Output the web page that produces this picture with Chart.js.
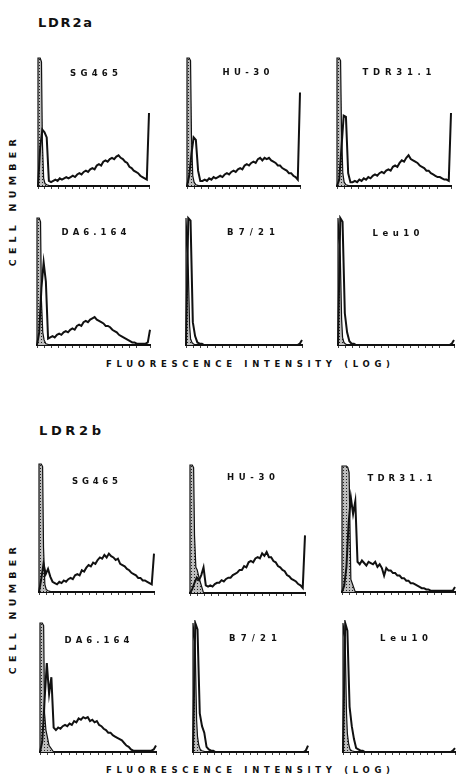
<!DOCTYPE html>
<html><head><meta charset="utf-8">
<script src="https://cdn.jsdelivr.net/npm/chart.js@4.4.1/dist/chart.umd.min.js"></script>
<style>
html,body{margin:0;padding:0;background:#fff;}
body{width:456px;height:775px;position:relative;overflow:hidden;font-family:"DejaVu Sans","Liberation Sans",Arial,sans-serif;}
.t{position:absolute;font-weight:bold;color:#111;white-space:nowrap;line-height:1;}
.pnl{position:absolute;}
</style>
</head><body>
<script>
// ---------------- DATA ----------------
const groupNames = ['LDR2a', 'LDR2b'];
const antibodies = ['SG465', 'HU-30', 'TDR31.1', 'DA6.164', 'B7/21', 'Leu10'];
const xAxisTitle = 'FLUORESCENCE INTENSITY (LOG)';
const yAxisTitle = 'CELL NUMBER';

// fluorescence channel (log scale, 0..255)
const channels = [0,5,10,15,20,25,30,35,40,45,50,55,60,65,70,75,80,85,90,95,100,105,110,115,120,125,130,135,140,145,150,155,160,165,170,175,180,185,190,195,200,205,210,215,220,225,230,235,240,245,250,255];
const controlChannels = [0,0,5,8,10,13,16,20,30,255];

// LDR2a — stained histograms (cell number, % of panel max)
const a_SG465  = [0,30,44,42,38,4,3,4,5,4, 6,5,6,7,6,7,8,7,9,10, 9,11,12,11,13,14,13,16,17,16, 19,20,19,21,22,21,23,24,22,21, 19,18,15,14,12,11,10,8,7,6, 5,57];
const a_HU30   = [0,8,25,38,36,12,4,4,5,4, 6,5,7,6,7,8,7,9,10,9, 11,12,11,13,14,13,16,17,16,18, 19,18,21,22,20,22,21,22,20,19, 18,16,16,14,13,12,10,10,8,7, 5,73];
const a_TDR311 = [0,5,30,55,54,10,3,3,4,3, 5,4,6,5,7,6,8,9,8,10, 11,10,12,13,12,15,16,15,18,20, 19,22,24,21,20,19,18,16,15,14, 12,12,10,9,8,7,7,6,5,5, 4,57];
const a_DA6164 = [0,10,45,65,50,5,6,7,6,8, 9,8,10,11,10,12,13,12,15,16, 15,18,19,18,20,21,22,20,19,18, 17,15,15,14,12,11,10,8,7,6, 5,4,3,2,2,1,1,1,1,1, 2,12];
const a_B721   = [0,100,98,18,7,2,1,1,0,0, 0,0,0,0,0,0,0,0,0,0, 0,0,0,0,0,0,0,0,0,0, 0,0,0,0,0,0,0,0,0,0, 0,0,0,0,0,0,0,0,0,0, 1,4];
const a_Leu10  = [0,100,97,25,10,3,1,1,0,0, 0,0,0,0,0,0,0,0,0,0, 0,0,0,0,0,0,0,0,0,0, 0,0,0,0,0,0,0,0,0,0, 0,0,0,0,0,0,0,0,0,0, 1,4];
// LDR2a — negative controls (on controlChannels)
const a_SG465_ctl  = [0,100,100,97,35,6,2,1,0,0];
const a_HU30_ctl   = [0,100,100,98,40,8,3,1,0,0];
const a_TDR311_ctl = [0,100,100,98,45,10,3,1,0,0];
const a_DA6164_ctl = [0,100,100,97,35,10,4,1,0,0];
const a_B721_ctl   = [0,100,60,15,5,2,1,0,0,0];
const a_Leu10_ctl  = [0,100,70,20,6,2,1,0,0,0];

// LDR2b — stained histograms
const b_SG465  = [0,10,22,14,18,12,8,7,6,8, 7,9,8,10,11,10,13,14,13,17, 16,19,21,20,23,22,25,27,26,29, 27,30,28,27,25,26,22,21,20,18, 17,15,14,13,11,11,9,9,8,7, 6,30];
const b_HU30   = [0,3,8,12,10,14,20,6,5,6, 5,7,8,8,10,9,11,12,12,14, 15,16,18,18,21,20,24,25,24,27, 28,27,31,29,32,28,28,25,24,21, 20,18,17,14,13,11,10,9,7,6, 4,45];
const b_TDR311 = [0,5,20,55,75,62,72,24,22,25, 23,21,24,23,22,24,20,22,19,13, 19,17,17,15,15,13,13,11,11,9, 9,7,7,6,5,4,3,3,2,2, 1,1,1,1,1,1,1,1,1,1, 1,4];
const b_DA6164 = [0,8,40,69,45,58,19,17,19,18, 20,21,20,22,21,24,23,26,25,27, 26,27,24,25,23,24,21,20,18,17, 15,15,13,12,11,10,9,7,5,4, 2,1,1,1,1,1,1,1,1,1, 2,5];
const b_B721   = [0,100,95,30,20,15,4,2,1,1, 0,0,0,0,0,0,0,0,0,0, 0,0,0,0,0,0,0,0,0,0, 0,0,0,0,0,0,0,0,0,0, 0,0,0,0,0,0,0,0,0,0, 1,5];
const b_Leu10  = [0,100,94,35,20,10,3,2,1,1, 0,0,0,0,0,0,0,0,0,0, 0,0,0,0,0,0,0,0,0,0, 0,0,0,0,0,0,0,0,0,0, 0,0,0,0,0,0,0,0,0,0, 1,3];
// LDR2b — negative controls
const b_SG465_ctl  = [0,100,100,98,35,6,2,1,0,0];
const b_HU30_ctl   = [0,100,100,98,45,20,18,12,0,0];
const b_TDR311_ctl = [0,100,100,100,100,99,95,10,0,0];
const b_DA6164_ctl = [0,100,100,98,30,17,12,5,0,0];
const b_B721_ctl   = [0,100,80,25,12,5,2,1,0,0];
const b_Leu10_ctl  = [0,100,85,30,14,6,2,1,0,0];

// ---------------- LAYOUT (pixels) ----------------
const layoutA = [
  {L:38, R:149, T:58, B:186, lx:94, ly:73,  lw:48},
  {L:187,R:300, T:58, B:186, lx:246,ly:72,  lw:47},
  {L:337,R:451, T:58, B:186, lx:397,ly:72,  lw:69},
  {L:37, R:150, T:218,B:345, lx:94, ly:232, lw:65},
  {L:186,R:302, T:218,B:345, lx:251,ly:232, lw:48},
  {L:338,R:454, T:218,B:345, lx:396,ly:233, lw:47}
];
const layoutB = [
  {L:39, R:154, T:464,B:592, lx:95, ly:481, lw:46},
  {L:190,R:305, T:465,B:593, lx:251,ly:477, lw:48},
  {L:342,R:455, T:466,B:592, lx:400,ly:478, lw:65},
  {L:40, R:156, T:623,B:752, lx:97, ly:640, lw:65},
  {L:193,R:308, T:623,B:752, lx:253,ly:638, lw:48},
  {L:343,R:455, T:623,B:752, lx:404,ly:638, lw:48}
];

const seriesA = [a_SG465,a_HU30,a_TDR311,a_DA6164,a_B721,a_Leu10];
const ctlA    = [a_SG465_ctl,a_HU30_ctl,a_TDR311_ctl,a_DA6164_ctl,a_B721_ctl,a_Leu10_ctl];
const seriesB = [b_SG465,b_HU30,b_TDR311,b_DA6164,b_B721,b_Leu10];
const ctlB    = [b_SG465_ctl,b_HU30_ctl,b_TDR311_ctl,b_DA6164_ctl,b_B721_ctl,b_Leu10_ctl];

// stipple pattern for control histograms
function stipple(){
  const c = document.createElement('canvas'); c.width = 3; c.height = 3;
  const x = c.getContext('2d');
  x.fillStyle = '#bdbdbd'; x.fillRect(0,0,3,3);
  x.fillStyle = '#222'; x.fillRect(1,1,1,1);
  return x.createPattern(c,'repeat');
}
const pat = stipple();

// place text so that its visible width equals targetW, centred at (cx,cy)
// mode: 'c' centred, 'l' left-anchored at cx, 'r' rotated -90deg centred
function text(str, cx, cy, size, targetW, mode){
  const d = document.createElement('div');
  d.className = 't';
  d.textContent = str;
  d.style.fontSize = size + 'px';
  d.style.letterSpacing = '0px';
  document.body.appendChild(d);
  const w0 = d.getBoundingClientRect().width;
  const n = str.length;
  const ls = Math.max(0, (targetW - w0) / (n - 1));
  d.style.letterSpacing = ls + 'px';
  d.style.paddingLeft = ls + 'px';           // symmetric box around visible glyphs
  const r = d.getBoundingClientRect();
  const bw = r.width, bh = r.height;
  if (mode === 'l') {
    d.style.left = (cx - ls) + 'px';
    d.style.top = (cy - bh/2) + 'px';
  } else {
    d.style.left = (cx - bw/2) + 'px';
    d.style.top = (cy - bh/2) + 'px';
    if (mode === 'r') d.style.transform = 'rotate(-90deg)';
  }
}

function makePanel(cfg, test, ctl, label){
  const padT = 3, padL = 3, padR = 3, tick = 3;
  const W = cfg.R - cfg.L, H = cfg.B - cfg.T;
  const div = document.createElement('div');
  div.className = 'pnl';
  div.style.left = (cfg.L - padL) + 'px';
  div.style.top = (cfg.T - padT) + 'px';
  div.style.width = (W + padL + padR) + 'px';
  div.style.height = (H + padT + tick) + 'px';
  const cv = document.createElement('canvas');
  div.appendChild(cv);
  document.body.appendChild(div);
  new Chart(cv, {
    type: 'line',
    data: { datasets: [
      { data: channels.map((c,i)=>({x:c, y:test[i]})), borderColor:'#111', borderWidth:2,
        pointRadius:0, fill:false, tension:0, clip:false, order:0 },
      { data: controlChannels.map((c,i)=>({x:c, y:ctl[i]})), borderColor:'#111', borderWidth:1.2,
        backgroundColor: pat, fill:'origin', pointRadius:0, tension:0, clip:false, order:1 }
    ]},
    options: {
      responsive:true, maintainAspectRatio:false, animation:false, devicePixelRatio:1, events:[],
      layout:{ padding:{ left:padL, right:padR, top:padT, bottom:0 } },
      plugins:{ legend:{display:false}, tooltip:{enabled:false} },
      scales:{
        x:{ type:'linear', min:0, max:255,
            ticks:{ display:false, stepSize:16 },
            grid:{ display:true, drawOnChartArea:false, drawTicks:true, tickLength:tick, color:'#444', lineWidth:1 },
            border:{ display:true, color:'#111', width:2 } },
        y:{ display:false, min:0, max:100 }
      }
    }
  });
  text(label, cfg.lx, cfg.ly, 8.5, cfg.lw, 'c');
}

// titles
text(groupNames[0], 38, 22, 13, 54, 'l');
text(groupNames[1], 39, 430, 13, 62, 'l');
// axis titles
text(yAxisTitle, 13, 203, 9.5, 127, 'r');
text(yAxisTitle, 13, 611, 9.5, 127, 'r');
text(xAxisTitle, 248, 364, 8.5, 284, 'c');
text(xAxisTitle, 248, 770, 8.5, 284, 'c');

for (let i=0;i<6;i++) makePanel(layoutA[i], seriesA[i], ctlA[i], antibodies[i]);
for (let i=0;i<6;i++) makePanel(layoutB[i], seriesB[i], ctlB[i], antibodies[i]);
</script>
</body></html>
